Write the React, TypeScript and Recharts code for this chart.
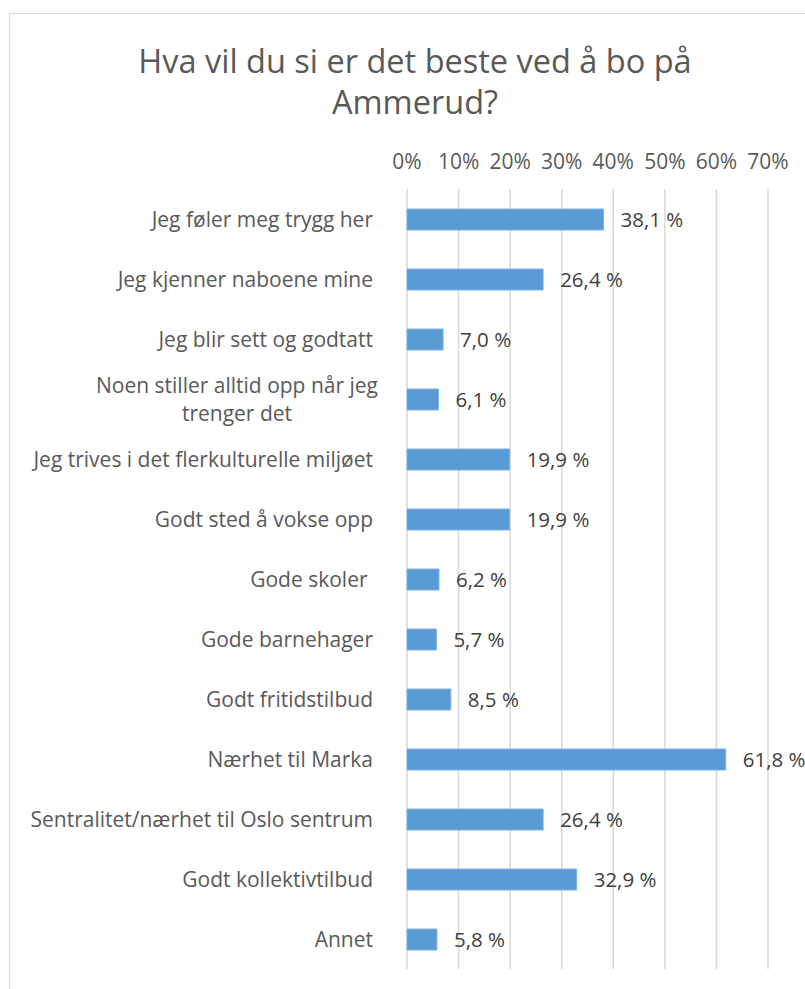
import React from "react";
import { BarChart, Bar, XAxis, YAxis, CartesianGrid, LabelList } from "recharts";

const categories = [
  "Jeg føler meg trygg her",
  "Jeg kjenner naboene mine",
  "Jeg blir sett og godtatt",
  "Noen stiller alltid opp når jeg\ntrenger det",
  "Jeg trives i det flerkulturelle miljøet",
  "Godt sted å vokse opp",
  "Gode skoler ",
  "Gode barnehager",
  "Godt fritidstilbud",
  "Nærhet til Marka",
  "Sentralitet/nærhet til Oslo sentrum",
  "Godt kollektivtilbud",
  "Annet",
];
const values = [38.1, 26.4, 7.0, 6.1, 19.9, 19.9, 6.2, 5.7, 8.5, 61.8, 26.4, 32.9, 5.8];
const xTicks = [0, 10, 20, 30, 40, 50, 60, 70];
const titleLines = ["Hva vil du si er det beste ved å bo på", "Ammerud?"];

const data = categories.map((name, i) => ({ name, value: values[i] }));

const FONT = "'Open Sans', Lato, sans-serif";
const CAT_SIZE = 21;

let ctx: CanvasRenderingContext2D | null = null;
function measure(t: string): number {
  if (!ctx) ctx = document.createElement("canvas").getContext("2d");
  if (!ctx) return t.length * 9;
  ctx.font = `${CAT_SIZE}px 'Open Sans'`;
  return ctx.measureText(t).width;
}

const CatTick = (props: any) => {
  const { x, y, payload } = props;
  const lines: string[] = String(payload.value).split("\n");
  if (lines.length === 1) {
    return (
      <text x={x} y={y} textAnchor="end" dominantBaseline="central" fill="#595959"
        fontSize={CAT_SIZE} fontFamily={FONT} style={{ whiteSpace: "pre" }}>
        {lines[0]}
      </text>
    );
  }
  const w = Math.max(...lines.map(measure));
  const cx = x + 5 - w / 2;
  const lh = 28;
  return (
    <g>
      {lines.map((l, i) => (
        <text key={i} x={cx} y={y + (i - (lines.length - 1) / 2) * lh} textAnchor="middle"
          dominantBaseline="central" fill="#595959" fontSize={CAT_SIZE} fontFamily={FONT}>
          {l}
        </text>
      ))}
    </g>
  );
};

const fmt = (v: any) => `${Number(v).toFixed(1).replace(".", ",")} %`;

export default function App() {
  return (
    <div style={{ position: "absolute", left: 0, top: 0, width: 805, height: 989, overflow: "hidden", background: "#fff" }}>
      <div style={{ position: "absolute", left: 9, top: 13, width: 900, height: 1100, border: "1.5px solid #d9d9d9", boxSizing: "border-box" }} />
      <div style={{ position: "absolute", left: 0, top: 40, width: 830, textAlign: "center", fontFamily: FONT, fontSize: 32.5, color: "#595959", lineHeight: "41px" }}>
        {titleLines.map((l, i) => <div key={i}>{l}</div>)}
      </div>
      <div style={{ position: "absolute", left: 0, top: 0 }}>
        <BarChart width={805} height={989} data={data} layout="vertical" barSize={21}
          margin={{ top: 149, right: 37, bottom: 20, left: 0 }}>
          <CartesianGrid horizontal={false} vertical={true} stroke="#d9d9d9" strokeWidth={1.5} />
          <XAxis type="number" orientation="top" domain={[0, 70]} ticks={xTicks} height={40}
            axisLine={false} tickLine={false} tickSize={0} tickMargin={20}
            tickFormatter={(v: number) => `${v}%`} interval={0}
            tick={{ fill: "#595959", fontSize: 21, fontFamily: FONT }} />
          <YAxis type="category" dataKey="name" width={407} axisLine={false} tickLine={false}
            tickSize={0} tickMargin={34} interval={0} tick={<CatTick />} />
          <Bar dataKey="value" fill="#5B9BD5" stroke="#7fb2e0" strokeWidth={1} isAnimationActive={false}>
            <LabelList dataKey="value" position="right" offset={17} formatter={fmt}
              fill="#404040" fontSize={20.5} fontFamily={FONT} />
          </Bar>
        </BarChart>
      </div>
    </div>
  );
}
